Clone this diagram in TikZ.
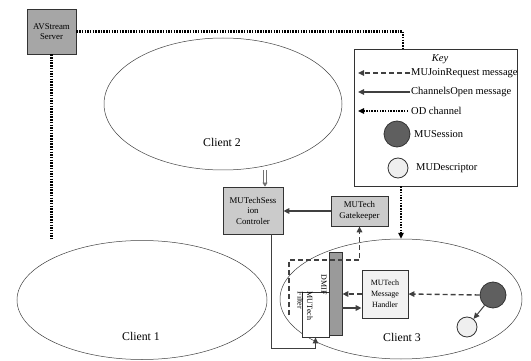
\documentclass[tikz,border=0pt]{standalone}
\usepackage{fontspec}
\setmainfont{Liberation Serif}
\usepackage{xcolor}
\usetikzlibrary{arrows.meta,calc,positioning,shapes.geometric}

\definecolor{servergray}{HTML}{A6A6A6}
\definecolor{modgray}{HTML}{CBCBCB}
\definecolor{dmifgray}{HTML}{9A9A9A}
\definecolor{handlergray}{HTML}{F2F2F2}
\definecolor{sessgray}{HTML}{5F5F5F}
\definecolor{descgray}{HTML}{EFEFEF}

\begin{document}
\begin{tikzpicture}[x=1pt,y=-1pt,
  client/.style={ellipse,draw=black!75,line width=0.5pt,inner sep=0pt},
  cname/.style={font=\fontsize{11.8}{13}\selectfont},
  module/.style={draw=black!80,line width=0.8pt,inner sep=1pt,align=center,font=\fontsize{8.8}{10.5}\selectfont},
  keyline/.style={font=\fontsize{10.5}{12}\selectfont,anchor=west,inner sep=1pt},
  od/.style={draw=black,line width=2.1pt,dash pattern=on 1.5pt off 1.2pt},
  msg/.style={draw=black!75,line width=1.4pt,dash pattern=on 5pt off 3pt},
  open/.style={draw=black!75,line width=1.6pt},
  tip/.style={-{Triangle[length=6pt,width=5.5pt]}},
  unit/.style={circle,draw=black!80,line width=0.8pt,inner sep=0pt}
]
\useasboundingbox (0,0) rectangle (531,361);

% clients
\node[client,minimum width=238pt,minimum height=132pt] (client2) at (223,104) {};
\node[cname] (c2lbl) at (222,142) {Client 2};
\node[client,minimum width=250pt,minimum height=119pt] (client1) at (142,300) {};
\node[cname] (c1lbl) at (141,336) {Client 1};
\node[client,minimum width=242pt,minimum height=120pt] (client3) at (401,299) {};
\node[cname] (c3lbl) at (402,337) {Client 3};

% modules
\node[module,fill=servergray,minimum width=49pt,minimum height=45pt] (server) at (51.5,31.5) {AVStream\\Server};
\node[module,fill=modgray,minimum width=60pt,minimum height=47pt] (ctrl) at (253,210.5) {MUTechSess\\ion\\Controler};
\node[module,fill=modgray,minimum width=57pt,minimum height=30pt] (gate) at (359.5,211) {MUTech\\Gatekeeper};
\node[module,fill=handlergray,minimum width=46pt,minimum height=48pt,font=\fontsize{8}{10.8}\selectfont] (handler) at (385,294) {MUTech\\Message\\Handler};
\node[module,fill=dmifgray,minimum width=13pt,minimum height=83pt] (dmif) at (335.5,293.5) {};
\node[module,fill=white,minimum width=27pt,minimum height=45pt] (filter) at (315.5,314.5) {};
\node[rotate=-90,inner sep=0pt,font=\fontsize{8}{9}\selectfont] (dmiflbl) at (324,285) {DMIF};
\node[rotate=-90,inner sep=0pt,align=left,font=\fontsize{8}{9.5}\selectfont] (filterlbl) at (305,306) {MUTech\\Filter};

% sessions in client 3
\node[unit,fill=sessgray,minimum size=26pt] (sess) at (493,295) {};
\node[unit,fill=descgray,minimum size=20pt] (desc) at (467,327) {};

% key
\node[draw=black!80,line width=0.8pt,minimum width=163pt,minimum height=137pt] (key) at (435.5,117.5) {};
\node[font=\itshape\fontsize{10.5}{12}\selectfont] (keyttl) at (440,59) {Key};
\node[keyline] (kjoin) at (410,73) {MUJoinRequest message};
\node[keyline] (kopen) at (410,92) {ChannelsOpen message};
\node[keyline] (kod) at (410,111) {OD channel};
\coordinate (kjoinend) at (358,73);
\coordinate (kopenend) at (358,92);
\coordinate (kodend) at (358,111);
\node[unit,fill=sessgray,minimum size=26pt] (ksess) at (397,134) {};
\node[keyline] (ksesslbl) at (413,134) {MUSession};
\node[unit,fill=descgray,minimum size=20pt] (kdesc) at (398,168) {};
\node[keyline] (kdesclbl) at (415,168) {MUDescriptor};

\draw[msg,tip] (kjoin.west) -- (kjoinend);
\draw[open,tip] (kopen.west) -- (kopenend);
\draw[od,tip] ([xshift=-2pt]kod.west) -- (kodend);

% OD channels
\coordinate (odend) at (51.5,239);
\draw[od] (server.east) -| ([xshift=-32.5pt]key.north);
\draw[od] (server.south) -- (odend);
\draw[od,tip] (key.south -| client3.north) -- (client3.north);

% messages
\draw[draw=black!55,double=white,double distance=2.4pt,line width=0.7pt,-{Triangle[length=4pt,width=5pt]}] ([xshift=12pt]ctrl.north |- client2.south) -- ([xshift=12pt]ctrl.north);
\draw[open,tip] (gate.west) -- (ctrl.east |- gate.west);
\coordinate (jstart) at (289,315);
\coordinate (jturn) at (289,260);
\draw[msg,tip] (jstart) -- (jturn) -| (gate.south);
\draw[draw=black!75,line width=0.9pt,tip] ([xshift=18pt]ctrl.south) -- ++(0,114) -| (filter.south);
\draw[msg,tip] (handler.west) -- (handler.west -| dmif.east);
\draw[open,tip] ([yshift=-14pt]handler.west -| dmif.east) -- ([yshift=-14pt]handler.west);
\draw[msg,tip] (sess.west) -- (handler.east);
\draw[draw=black!75,line width=1pt,tip] (sess) -- (desc);
\end{tikzpicture}
\end{document}
